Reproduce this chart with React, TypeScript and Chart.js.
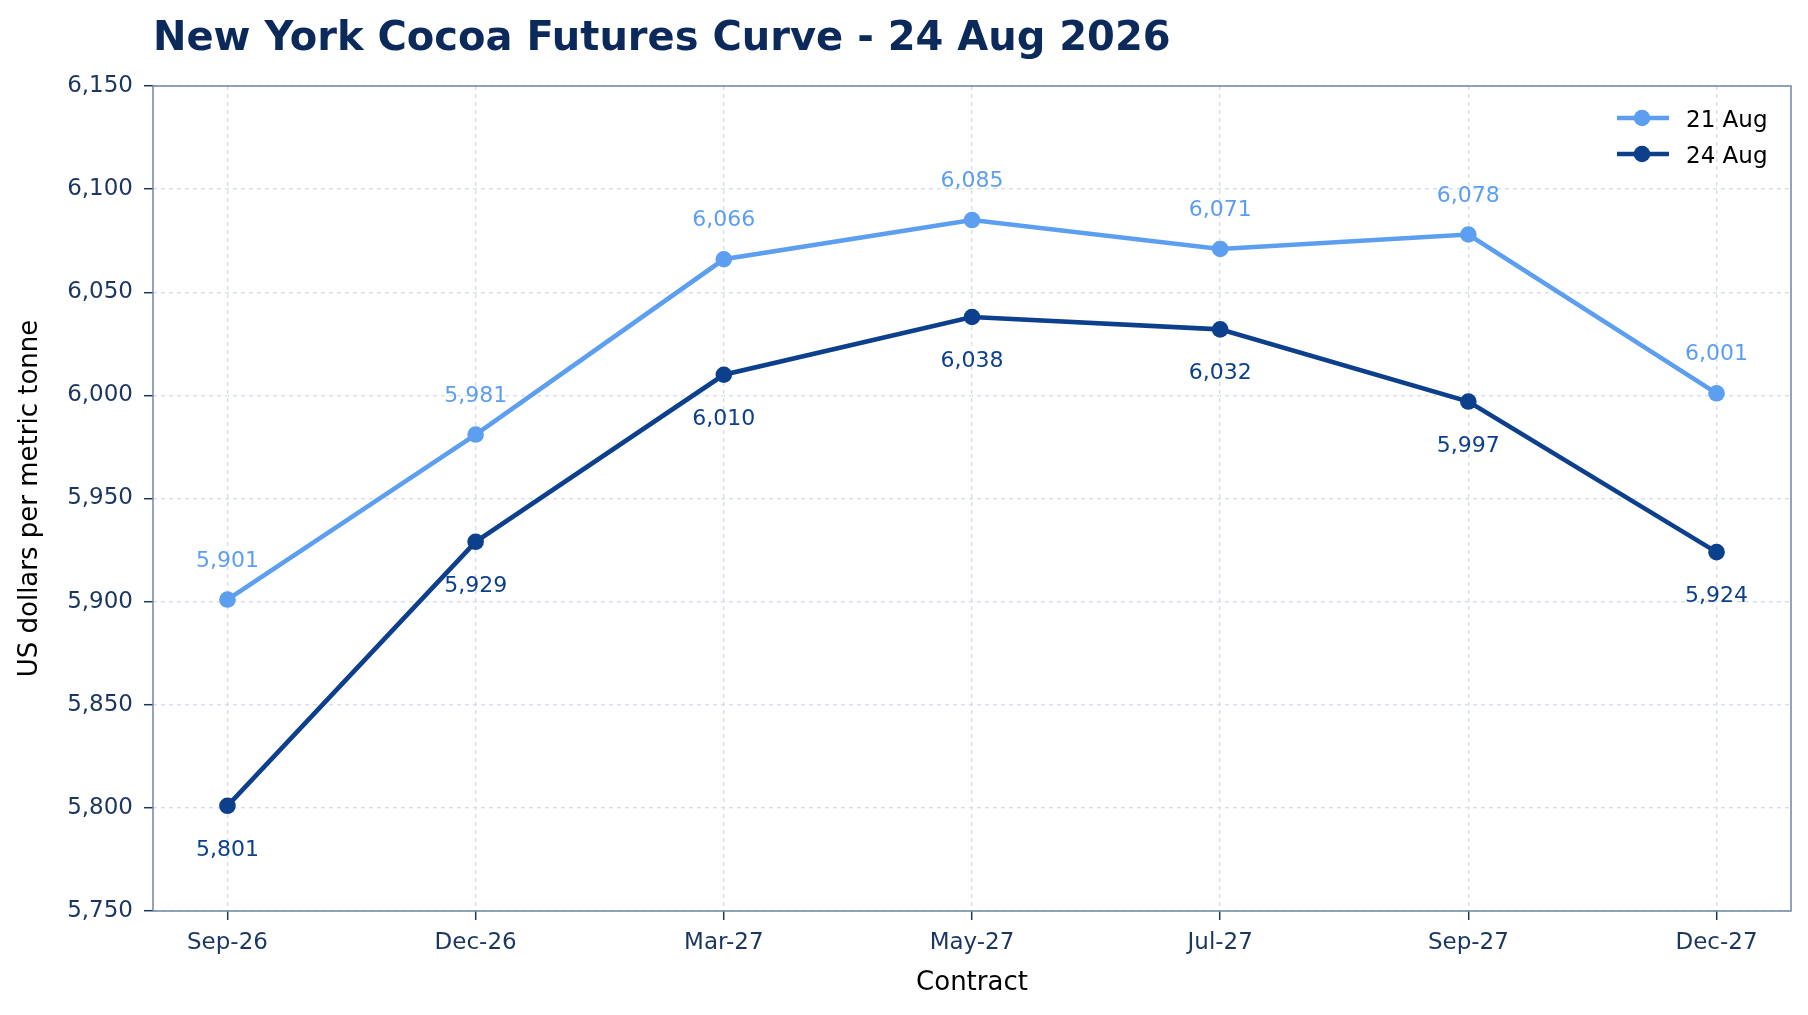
import React, { useEffect, useRef } from "react";
import { Chart, registerables, Plugin } from "chart.js";

Chart.register(...registerables);

const contracts = ["Sep-26", "Dec-26", "Mar-27", "May-27", "Jul-27", "Sep-27", "Dec-27"];
const aug21 = [5901, 5981, 6066, 6085, 6071, 6078, 6001];
const aug24 = [5801, 5929, 6010, 6038, 6032, 5997, 5924];
const seriesNames = ["21 Aug", "24 Aug"];
const yMin = 5750;
const yMax = 6150;
const yStep = 50;

const LIGHT = "#5c9ef0";
const DARK = "#0c3f8c";
const NAVY = "#1b365f";
const GRID = "#d6dfeb";
const FONT = "'DejaVu Sans', sans-serif";

const fmt = (v: number) => v.toLocaleString("en-US");

// title, plot frame, point labels and the in-plot legend
const decorations: Plugin<"line"> = {
  id: "decorations",
  beforeDatasetsDraw(chart) {
    const { ctx, chartArea: a } = chart;
    ctx.save();
    ctx.strokeStyle = "#7085a5";
    ctx.lineWidth = 1.5;
    ctx.strokeRect(a.left, a.top, a.right - a.left, a.bottom - a.top);
    ctx.restore();
  },
  afterDraw(chart) {
    const { ctx, chartArea: a } = chart;
    ctx.save();

    ctx.fillStyle = "#0b2a5b";
    ctx.font = `bold 40px ${FONT}`;
    ctx.textAlign = "left";
    ctx.textBaseline = "alphabetic";
    ctx.fillText("New York Cocoa Futures Curve - 24 Aug 2026", a.left, 50);

    ctx.font = `22px ${FONT}`;
    ctx.textAlign = "center";
    chart.data.datasets.forEach((ds, di) => {
      const meta = chart.getDatasetMeta(di);
      ctx.fillStyle = ds.borderColor as string;
      meta.data.forEach((pt, i) => {
        const v = (ds.data[i] as { x: number; y: number }).y;
        const dy = di === 0 ? -33 : 50;
        ctx.fillText(fmt(v), pt.x, pt.y + dy);
      });
    });

    // legend
    const rows = [118, 154];
    chart.data.datasets.forEach((ds, di) => {
      const y = rows[di];
      const x0 = a.right - 174;
      ctx.strokeStyle = ds.borderColor as string;
      ctx.lineWidth = 4.6;
      ctx.beginPath();
      ctx.moveTo(x0, y);
      ctx.lineTo(x0 + 52, y);
      ctx.stroke();
      ctx.fillStyle = ds.borderColor as string;
      ctx.beginPath();
      ctx.arc(x0 + 25, y, 8.3, 0, Math.PI * 2);
      ctx.fill();
      ctx.fillStyle = "#000";
      ctx.font = `23px ${FONT}`;
      ctx.textAlign = "left";
      ctx.fillText(ds.label as string, x0 + 69, y + 9);
    });
    ctx.restore();
  },
};

export default function App() {
  const canvasRef = useRef<HTMLCanvasElement | null>(null);
  const chartRef = useRef<Chart | null>(null);

  useEffect(() => {
    document.body.style.margin = "0";
    if (!canvasRef.current) return;

    const toPoints = (arr: number[]) => arr.map((y, x) => ({ x, y }));

    chartRef.current = new Chart(canvasRef.current, {
      type: "line",
      data: {
        datasets: [
          {
            label: seriesNames[0],
            data: toPoints(aug21),
            borderColor: LIGHT,
            backgroundColor: LIGHT,
            borderWidth: 4.6,
            pointRadius: 8.3,
            pointHoverRadius: 8.3,
            pointBorderWidth: 0,
          },
          {
            label: seriesNames[1],
            data: toPoints(aug24),
            borderColor: DARK,
            backgroundColor: DARK,
            borderWidth: 4.6,
            pointRadius: 8.3,
            pointHoverRadius: 8.3,
            pointBorderWidth: 0,
          },
        ],
      },
      options: {
        responsive: false,
        animation: false,
        devicePixelRatio: 1,
        layout: { padding: { top: 86, right: 17, left: 0, bottom: 0 } },
        plugins: {
          legend: { display: false },
          title: { display: false },
          tooltip: { enabled: false },
        },
        scales: {
          x: {
            type: "linear",
            min: -0.3,
            max: contracts.length - 1 + 0.3,
            afterBuildTicks: (scale) => {
              scale.ticks = contracts.map((_, i) => ({ value: i }));
            },
            afterFit: (scale) => {
              scale.height = 104;
            },
            ticks: {
              callback: (v) => contracts[Number(v)] ?? "",
              color: NAVY,
              font: { family: FONT, size: 23 },
              padding: 9,
              maxRotation: 0,
              autoSkip: false,
            },
            grid: {
              color: GRID,
              lineWidth: 1.4,
              tickColor: NAVY,
              tickLength: 9,
              tickWidth: 1.5,
              tickBorderDash: [],
            },
            border: { display: false, dash: [4, 4] },
            title: {
              display: true,
              text: "Contract",
              color: "#000",
              font: { family: FONT, size: 26 },
              padding: { top: 0, bottom: 16 },
            },
          },
          y: {
            min: yMin,
            max: yMax,
            afterFit: (scale) => {
              scale.width = 153;
            },
            ticks: {
              stepSize: yStep,
              callback: (v) => fmt(Number(v)),
              color: NAVY,
              font: { family: FONT, size: 23 },
              padding: 11,
            },
            grid: {
              color: GRID,
              lineWidth: 1.4,
              tickColor: NAVY,
              tickLength: 9,
              tickWidth: 1.5,
              tickBorderDash: [],
            },
            border: { display: false, dash: [4, 4] },
            title: {
              display: true,
              text: "US dollars per metric tonne",
              color: "#000",
              font: { family: FONT, size: 26 },
              padding: { top: 14.4, bottom: 0 },
            },
          },
        },
      },
      plugins: [decorations],
    });

    return () => {
      if (chartRef.current) chartRef.current.destroy();
      chartRef.current = null;
    };
  }, []);

  return (
    <div style={{ width: 1808, height: 1015 }}>
      <canvas ref={canvasRef} width={1808} height={1015} />
    </div>
  );
}
